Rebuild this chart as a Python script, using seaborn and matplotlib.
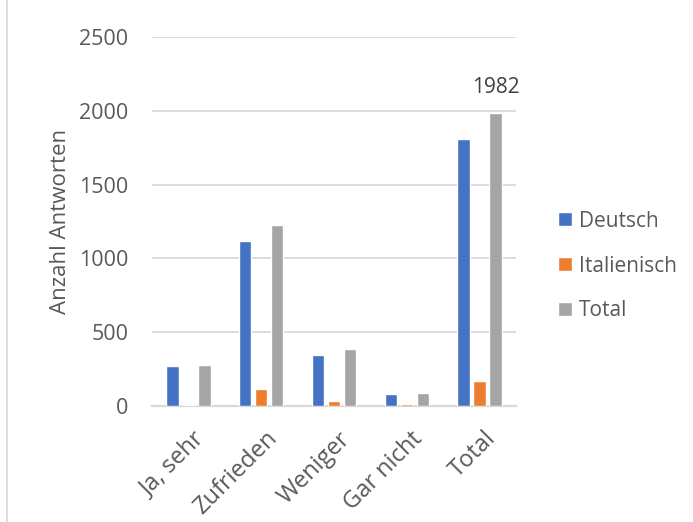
import pandas as pd
import seaborn as sns
import matplotlib.pyplot as plt
import matplotlib.transforms as mtransforms
from matplotlib.patches import Rectangle

# Daten
kategorien = ["Ja, sehr", "Zufrieden", "Weniger", "Gar nicht", "Total"]
deutsch = [270, 1115, 347, 79, 1811]
italienisch = [10, 113, 37, 11, 171]
total = [280, 1228, 384, 90, 1982]
serien = ["Deutsch", "Italienisch", "Total"]
farben = ["#4472C4", "#ED7D31", "#A5A5A5"]

df = pd.DataFrame({
    "Kategorie": kategorien * 3,
    "Serie": [s for s in serien for _ in kategorien],
    "Anzahl": deutsch + italienisch + total,
})

sns.set_theme(style="white")
plt.rcParams["font.family"] = ["Open Sans", "DejaVu Sans"]
grau = "#595959"

fig = plt.figure(figsize=(6.93, 5.22), dpi=100)
ax = fig.add_axes([152 / 693, 1 - 406 / 522, 364 / 693, 369 / 522])

sns.barplot(data=df, x="Kategorie", y="Anzahl", hue="Serie", order=kategorien,
            hue_order=serien, palette=farben, width=0.66, gap=0.22,
            saturation=1, ax=ax, legend=True)
for p in ax.patches:
    p.set_zorder(3)

ax.set_ylim(0, 2500)
ax.set_yticks(range(0, 2501, 500))
ax.yaxis.grid(True, color="#D9D9D9", linewidth=1.3)
ax.set_axisbelow(True)
for s in ["top", "right", "left"]:
    ax.spines[s].set_visible(False)
ax.spines["bottom"].set_color("#D9D9D9")
ax.spines["bottom"].set_linewidth(1.6)
ax.spines["bottom"].set_zorder(1)

ax.tick_params(axis="y", length=0, pad=17, labelsize=15.5, labelcolor=grau)
ax.tick_params(axis="x", length=0, pad=15, labelsize=17, labelcolor=grau)
versatz = mtransforms.ScaledTranslation(4 / 100, 0, fig.dpi_scale_trans)
for lbl in ax.get_xticklabels():
    lbl.set_rotation(45)
    lbl.set_ha("right")
    lbl.set_rotation_mode("anchor")
    lbl.set_transform(lbl.get_transform() + versatz)

ax.set_xlabel("")
ax.set_ylabel("Anzahl Antworten", fontsize=16, color=grau)
ax.yaxis.set_label_coords(-0.2225, 0.5)

# Beschriftung nur für den Total-Balken
ax.bar_label(ax.containers[2], labels=["", "", "", "", "1982"], padding=11,
             fontsize=15, color="#404040")

handles, labels = ax.get_legend_handles_labels()
ax.legend(handles, labels, loc="center left", bbox_to_anchor=(558 / 693, 1 - 266 / 522),
          bbox_transform=fig.transFigure, frameon=False, fontsize=15,
          handlelength=0.65, handleheight=0.65, handletextpad=0.35,
          labelspacing=1.15, borderpad=0, borderaxespad=0, labelcolor=grau)

# Rahmen des Diagrammbereichs
fig.patches.append(Rectangle((7 / 693, -0.2), 2, 1.2 + (1 - 7 / 522),
                             transform=fig.transFigure, fill=False,
                             edgecolor="#D9D9D9", linewidth=1.2))

fig.savefig("out.png", dpi=100)
